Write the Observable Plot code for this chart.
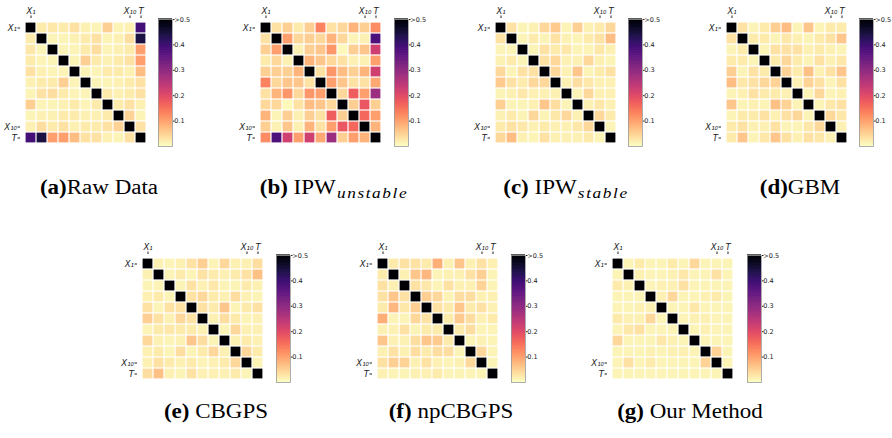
<!DOCTYPE html>
<html><head><meta charset="utf-8">
<script src="https://cdn.jsdelivr.net/npm/d3@7"></script>
<script src="https://cdn.jsdelivr.net/npm/@observablehq/plot@0.6"></script>
<style>
body{margin:0;background:#fff;}
#fig{position:relative;width:892px;height:438px;overflow:hidden;background:#fff;}
.p{position:absolute;}
.cap{position:absolute;width:300px;text-align:center;font-family:"Liberation Serif","DejaVu Serif",serif;font-size:20px;line-height:20px;white-space:nowrap;color:#000;transform:scaleX(1.15);transform-origin:50% 50%;}
.cap b{font-weight:bold;}
.cap .s{font-style:italic;font-size:15px;letter-spacing:1.4px;position:relative;top:4px;margin-left:1px;}
</style></head><body><div id="fig"></div>
<script>
// Variable labels (rows/cols 0..10); only X1, X10 and T are shown as ticks
const varLabels = ["X₁","X₂","X₃","X₄","X₅","X₆","X₇","X₈","X₉","X₁₀","T"];
const tickIdx = [0, 9, 10];
const barTicks = [0.1, 0.2, 0.3, 0.4, 0.5];

// Upper triangles of absolute correlation matrices (row i, columns i+1..10); diagonal = 1
const rawData = [
  [0.02, 0.025, 0.02, 0.03, 0.015, 0.01, 0.05, 0.01, 0.015, 0.39],
  [0.01, 0.01, 0.015, 0.02, 0.03, 0.01, 0.015, 0.035, 0.44],
  [0.01, 0.01, 0.02, 0.035, 0.01, 0.015, 0.02, 0.1],
  [0.01, 0.05, 0.02, 0.015, 0.02, 0.03, 0.1],
  [0.01, 0.01, 0.02, 0.02, 0.015, 0.07],
  [0.01, 0.01, 0.015, 0.02, 0.03],
  [0.02, 0.015, 0.02, 0.03],
  [0.02, 0.03, 0.015],
  [0.045, 0.01],
  [0.03]
];
const ipwUnstable = [
  [0.03, 0.05, 0.02, 0.05, 0.13, 0.03, 0.04, 0.08, 0.05, 0.12],
  [0.1, 0.04, 0.05, 0.04, 0.08, 0.04, 0.01, 0.015, 0.38],
  [0.015, 0.05, 0.06, 0.11, 0.005, 0.05, 0.06, 0.22],
  [0.08, 0.06, 0.04, 0.03, 0.015, 0.015, 0.1],
  [0.03, 0.11, 0.07, 0.05, 0.08, 0.22],
  [0.1, 0.06, 0.03, 0.03, 0.09],
  [0.04, 0.17, 0.1, 0.28],
  [0.05, 0.18, 0.05],
  [0.16, 0.1],
  [0.08]
];
const ipwStable = [
  [0.03, 0.01, 0.015, 0.04, 0.055, 0.01, 0.05, 0.015, 0.02, 0.04],
  [0.01, 0.02, 0.01, 0.03, 0.015, 0.01, 0.02, 0.03, 0.07],
  [0.01, 0.03, 0.02, 0.025, 0.01, 0.01, 0.025, 0.015],
  [0.03, 0.04, 0.015, 0.015, 0.04, 0.015, 0.01],
  [0.04, 0.015, 0.06, 0.01, 0.02, 0.03],
  [0.015, 0.035, 0.025, 0.015, 0.015],
  [0.01, 0.04, 0.015, 0.015],
  [0.015, 0.025, 0.015],
  [0.04, 0.02],
  [0.01]
];
const gbm = [
  [0.03, 0.01, 0.02, 0.05, 0.07, 0.01, 0.06, 0.01, 0.02, 0.02],
  [0.02, 0.02, 0.01, 0.025, 0.015, 0.01, 0.02, 0.03, 0.06],
  [0.01, 0.03, 0.03, 0.03, 0.015, 0.02, 0.015, 0.01],
  [0.02, 0.04, 0.02, 0.01, 0.03, 0.015, 0.025],
  [0.045, 0.02, 0.065, 0.015, 0.03, 0.06],
  [0.015, 0.045, 0.03, 0.01, 0.03],
  [0.01, 0.04, 0.01, 0.015],
  [0.01, 0.025, 0.03],
  [0.04, 0.025],
  [0.015]
];
const cbgps = [
  [0.015, 0.01, 0.015, 0.03, 0.05, 0.01, 0.04, 0.015, 0.015, 0.035],
  [0.01, 0.02, 0.01, 0.03, 0.02, 0.015, 0.02, 0.03, 0.065],
  [0.01, 0.03, 0.015, 0.025, 0.01, 0.01, 0.02, 0.015],
  [0.03, 0.04, 0.02, 0.015, 0.035, 0.015, 0.01],
  [0.03, 0.02, 0.06, 0.01, 0.02, 0.03],
  [0.015, 0.035, 0.02, 0.01, 0.015],
  [0.01, 0.04, 0.015, 0.015],
  [0.015, 0.02, 0.015],
  [0.04, 0.02],
  [0.01]
];
const npCbgps = [
  [0.02, 0.03, 0.03, 0.02, 0.085, 0.015, 0.06, 0.015, 0.03, 0.015],
  [0.015, 0.06, 0.075, 0.01, 0.015, 0.015, 0.03, 0.05, 0.01],
  [0.03, 0.025, 0.01, 0.03, 0.015, 0.015, 0.045, 0.01],
  [0.05, 0.04, 0.01, 0.035, 0.035, 0.015, 0.015],
  [0.03, 0.02, 0.06, 0.02, 0.03, 0.015],
  [0.02, 0.055, 0.035, 0.015, 0.02],
  [0.02, 0.035, 0.01, 0.01],
  [0.01, 0.015, 0.01],
  [0.04, 0.01],
  [0.01]
];
const ourMethod = [
  [0.01, 0.02, 0.01, 0.01, 0.02, 0.01, 0.04, 0.01, 0.01, 0.01],
  [0.015, 0.01, 0.01, 0.015, 0.025, 0.01, 0.01, 0.03, 0.01],
  [0.01, 0.015, 0.015, 0.03, 0.01, 0.01, 0.01, 0.01],
  [0.015, 0.04, 0.01, 0.01, 0.015, 0.02, 0.01],
  [0.01, 0.01, 0.025, 0.01, 0.01, 0.01],
  [0.01, 0.015, 0.015, 0.01, 0.01],
  [0.01, 0.015, 0.01, 0.01],
  [0.01, 0.01, 0.01],
  [0.045, 0.01],
  [0.01]
];

const captions = [
  '<b>(a)</b>Raw Data',
  '<b>(b)</b> IPW<span class="s">unstable</span>',
  '<b>(c)</b> IPW<span class="s">stable</span>',
  '<b>(d)</b>GBM',
  '<b>(e)</b> CBGPS',
  '<b>(f)</b> npCBGPS',
  '<b>(g)</b> Our Method'
];
const matrices = [rawData, ipwUnstable, ipwStable, gbm, cbgps, npCbgps, ourMethod];

// layout (heatmap top-left, colorbar top-left, caption centre / top)
const layout = [
  {hx:20,  hy:17,  cx:158, cy:19,  capC:99,  capY:177},
  {hx:255, hy:17,  cx:394, cy:19,  capC:334, capY:177},
  {hx:490, hy:17,  cx:628, cy:19,  capC:566, capY:177},
  {hx:721, hy:17,  cx:859, cy:19,  capC:800, capY:177},
  {hx:137, hy:253, cx:276, cy:255, capC:216, capY:401},
  {hx:372, hy:253, cx:511, cy:255, capC:451, capY:401},
  {hx:607, hy:253, cx:747, cy:255, capC:690, capY:401}
];

const N = 11, HW = 131, HH = 131, ML = 24, MT = 16;
const CBW = 14, CBH = 127;
const colorOpts = {type:"linear", scheme:"magma", reverse:true, domain:[0,0.5], clamp:true};
const fig = document.getElementById("fig");

function toCells(tri){
  const out = [];
  for (let i = 0; i < N; i++) for (let j = 0; j < N; j++) {
    let v;
    if (i === j) v = 1;
    else if (i < j) v = tri[i][j - i - 1];
    else v = tri[j][i - j - 1];
    out.push({i, j, v});
  }
  return out;
}

const gradSteps = d3.range(0, 0.5, 0.0025);

matrices.forEach((tri, k) => {
  const L = layout[k];
  const hm = Plot.plot({
    width: HW + ML + 1, height: HH + MT + 1,
    marginLeft: ML, marginTop: MT, marginRight: 1, marginBottom: 1,
    x: {type:"band", domain: d3.range(N), padding: 0, axis: null},
    y: {type:"band", domain: d3.range(N), padding: 0, axis: null},
    color: colorOpts,
    style: {fontFamily: "DejaVu Sans", fontSize: "8.5px", fontStyle: "italic", color: "#222", background: "transparent"},
    marks: [
      Plot.cell(toCells(tri), {x: "j", y: "i", fill: "v", inset: 0.6}),
      Plot.axisX(tickIdx, {anchor: "top", label: null, tickFormat: d => varLabels[d], tickSize: 2.5, tickPadding: 1, fontStyle: "italic"}),
      Plot.axisY(tickIdx, {anchor: "left", label: null, tickFormat: d => varLabels[d], tickSize: 2.5, tickPadding: 1, fontStyle: "italic"})
    ]
  });
  hm.classList.add("p");
  hm.style.left = (L.hx - ML) + "px";
  hm.style.top = (L.hy - MT) + "px";
  fig.appendChild(hm);

  const cb = Plot.plot({
    width: CBW + 20, height: CBH + 8,
    marginLeft: 0, marginRight: 20, marginTop: 4, marginBottom: 4,
    x: {domain: [0, 1], axis: null},
    y: {domain: [0, 0.5], axis: null},
    color: colorOpts,
    style: {fontFamily: "DejaVu Sans", fontSize: "6.5px", color: "#222", background: "transparent"},
    marks: [
      Plot.rect(gradSteps, {x1: () => 0, x2: () => 1, y1: d => d, y2: d => d + 0.005, fill: d => d}),
      Plot.frame({stroke: "#999", strokeWidth: 0.8}),
      Plot.axisY(barTicks, {anchor: "right", label: null, tickFormat: d => d === 0.5 ? ">0.5" : d3.format(".1f")(d), tickSize: 1.5, tickPadding: 0.3})
    ]
  });
  cb.classList.add("p");
  cb.style.left = L.cx + "px";
  cb.style.top = (L.cy - 4) + "px";
  fig.appendChild(cb);

  const cap = document.createElement("div");
  cap.className = "cap";
  cap.innerHTML = captions[k];
  cap.style.left = (L.capC - 150) + "px";
  cap.style.top = L.capY + "px";
  fig.appendChild(cap);
});
</script></body></html>
